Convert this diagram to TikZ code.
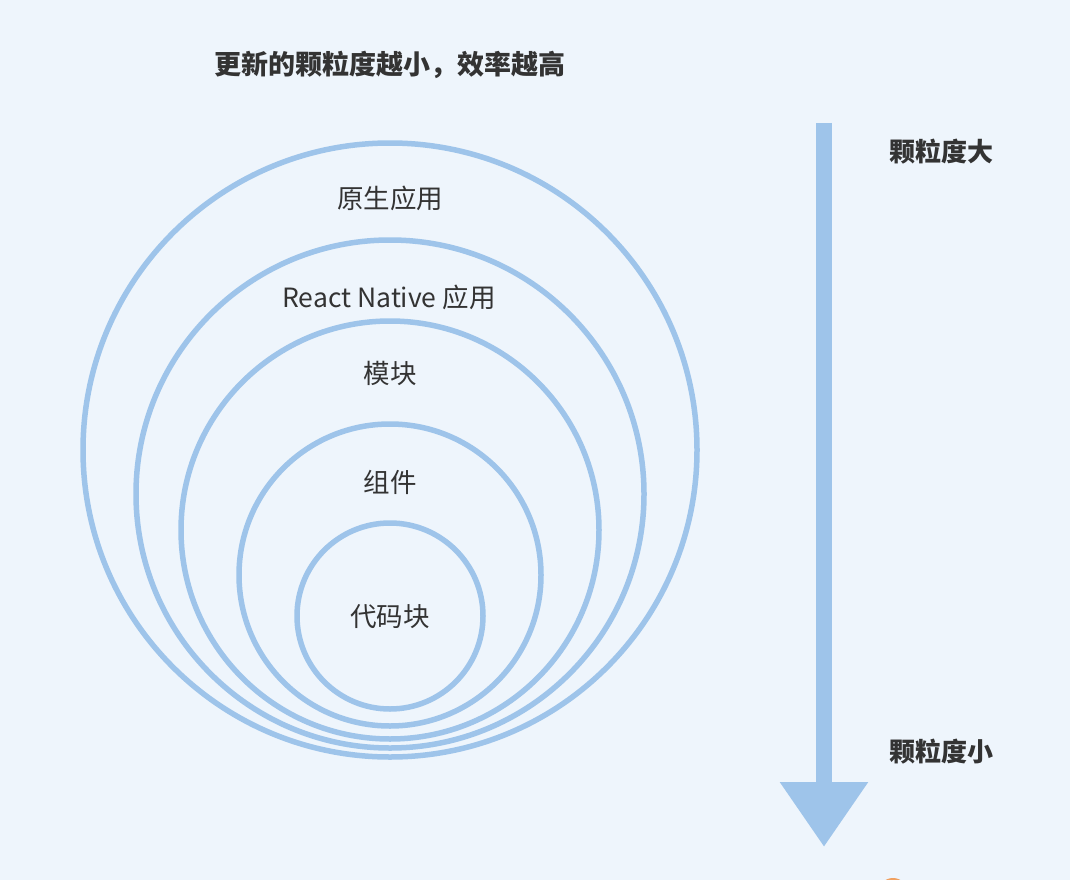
\documentclass[tikz,border=0pt]{standalone}
\usepackage{fontspec}
\newfontfamily\cjk{Noto Sans CJK SC}
\usetikzlibrary{arrows.meta}
\definecolor{bgc}{HTML}{EEF5FC}
\definecolor{ring}{HTML}{9EC4EA}
\definecolor{txt}{HTML}{333333}
\definecolor{dot}{HTML}{F0A060}
\tikzset{
  ringline/.style={draw=ring, line width=5.5pt},
  lbl/.style={text=txt, font=\cjk\fontsize{26.5}{30}\selectfont, inner sep=0pt},
  blbl/.style={text=txt, font=\cjk\bfseries\fontsize{26}{30}\selectfont, inner sep=0pt},
  bigarrow/.style={draw=ring, line width=16pt, -{Triangle[width=84pt,length=65pt]}, ring}
}
\begin{document}
\begin{tikzpicture}[x=1pt,y=-1pt]
\useasboundingbox (0,0) rectangle (1070,880);
\clip (0,0) rectangle (1070,880);
\fill[bgc] (0,0) rectangle (1070,880);
% rings
\draw[ringline] (390,450) circle[radius=307];
\draw[ringline] (390,494) circle[radius=254];
\draw[ringline] (390,530) circle[radius=209];
\draw[ringline] (390,575) circle[radius=151];
\draw[ringline] (390,616) circle[radius=93];
% labels
\node[blbl, font=\cjk\bfseries\fontsize{27}{30}\selectfont] (title) at (390,65) {更新的颗粒度越小，效率越高};
\node[lbl] (l1) at (390,198) {原生应用};
\node[lbl] (l2) at (389,297) {React Native 应用};
\node[lbl] (l3) at (390,373) {模块};
\node[lbl] (l4) at (390,482) {组件};
\node[lbl] (l5) at (390,617) {代码块};
\node[blbl] (big) at (941,152) {颗粒度大};
\node[blbl] (small) at (941,752) {颗粒度小};
% arrow
\coordinate (atop) at (824,123);
\coordinate (atip) at (824,847);
\draw[bigarrow] (atop) -- (atip);
% partial orange dot at bottom edge
\fill[dot] (893,893) circle[radius=15];
\end{tikzpicture}
\end{document}
